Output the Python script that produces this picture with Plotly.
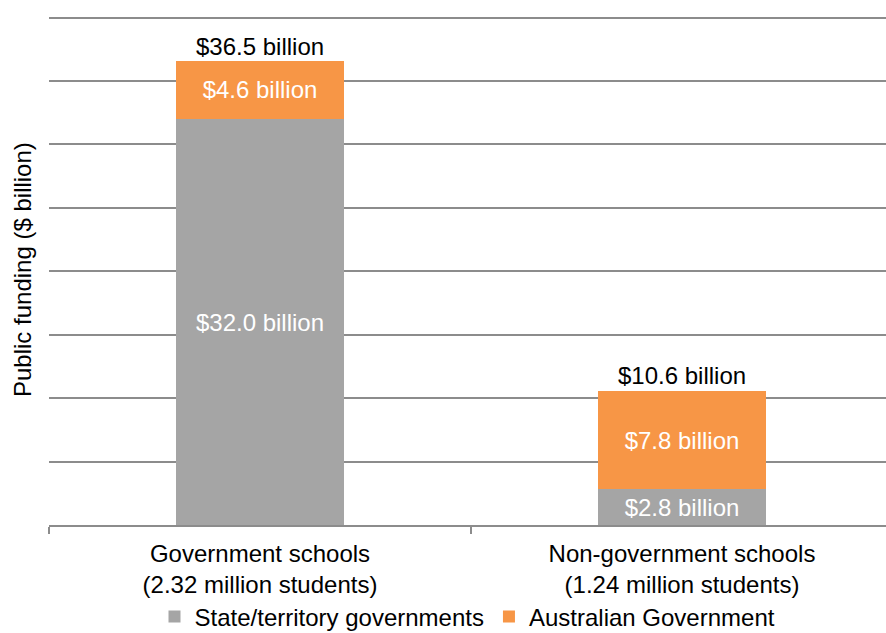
import plotly.graph_objects as go

# School funding by sector and source
categories = ["Government schools<br>(2.32 million students)",
              "Non-government schools<br>(1.24 million students)"]
state_funding = [32.0, 2.8]      # State/territory governments ($ billion)
federal_funding = [4.6, 7.8]     # Australian Government ($ billion)
totals = [36.5, 10.6]            # Total public funding ($ billion)

FONT = "Liberation Sans, Arial, sans-serif"
GRID = "#8c8c8c"
SIZE = 24

fig = go.Figure()
fig.add_trace(go.Bar(
    x=categories, y=state_funding, name="State/territory governments",
    marker=dict(color="#A5A5A5", line=dict(width=0)),
    text=[f"${v:.1f} billion" for v in state_funding],
    textposition="inside", insidetextanchor="middle",
    textfont=dict(color="white", size=SIZE, family=FONT),
    width=0.4,
))
fig.add_trace(go.Bar(
    x=categories, y=federal_funding, name="Australian Government",
    marker=dict(color="#F79646", line=dict(width=0)),
    text=[f"${v:.1f} billion" for v in federal_funding],
    textposition="inside", insidetextanchor="middle",
    textfont=dict(color="white", size=SIZE, family=FONT),
    width=0.4,
))

for cat, tot in zip(categories, totals):
    fig.add_annotation(x=cat, y=tot, text=f"${tot:.1f} billion",
                       showarrow=False, yanchor="bottom", yshift=0,
                       font=dict(color="black", size=SIZE, family=FONT))

fig.add_annotation(xref="paper", yref="paper", x=-27 / 837, y=0.5,
                   text="Public funding ($ billion)", textangle=-90,
                   showarrow=False, xanchor="center", yanchor="middle",
                   font=dict(color="black", size=SIZE, family=FONT))

fig.update_layout(
    barmode="stack",
    width=886, height=633,
    margin=dict(l=49, r=0, t=15, b=108, autoexpand=False),
    paper_bgcolor="white", plot_bgcolor="white",
    font=dict(family=FONT, size=SIZE, color="black"),
    uniformtext=dict(mode=False),
    legend=dict(orientation="h", x=0.5, xanchor="center",
                y=-0.136, yanchor="top", bgcolor="rgba(0,0,0,0)",
                font=dict(size=SIZE, family=FONT),
                itemwidth=30, traceorder="normal"),
    xaxis=dict(type="category", range=[-0.5, 1.4834], automargin=False,
               showline=True, linecolor=GRID, linewidth=1.5,
               ticks="outside", tickson="boundaries", ticklen=7,
               tickcolor=GRID, tickwidth=1.5, ticklabelstandoff=6,
               tickfont=dict(size=SIZE, family=FONT, color="black"),
               showgrid=False),
    yaxis=dict(range=[0, 40.2], tick0=0, dtick=5, showticklabels=False,
               automargin=False,
               showgrid=True, gridcolor=GRID, gridwidth=1.5,
               zeroline=False, showline=False, ticks=""),
)

fig.write_html("out.html")
